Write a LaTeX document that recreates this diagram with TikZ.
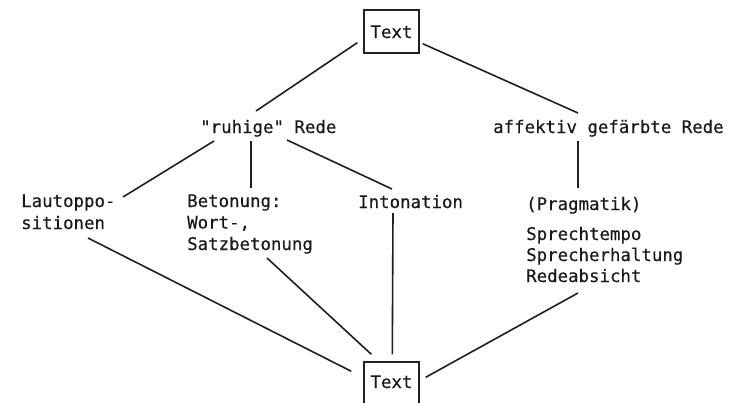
\documentclass[tikz,border=0pt]{standalone}
\usepackage{fontspec}
\setmonofont[FakeBold=0.3]{DejaVu Sans Mono}
\begin{document}
\begin{tikzpicture}[x=1pt,y=-1pt,
  lbl/.style={inner sep=0pt, anchor=base west, text=black!90,
    font=\ttfamily\fontsize{17.4}{21}\selectfont},
  conn/.style={line width=1.6pt, draw=black!88},
  boxnode/.style={draw=black!88, line width=1.4pt, minimum width=55pt, inner xsep=0pt,
    text height=13pt, anchor=base, text=black!90,
    font=\ttfamily\fontsize{17.4}{21}\selectfont}]
\useasboundingbox (0,0) rectangle (733,402);
\fill[white] (0,0) rectangle (733,402);
\clip (0,0) rectangle (733,402);

% boxes
\node[boxnode, inner ysep=15pt, text depth=0pt] (top) at (391.5,38) {Text};
\node[boxnode, inner ysep=13pt, text depth=40pt] (bot) at (391.5,388) {Text};
\draw[line width=1.3pt, draw=black!88] ([xshift=1.4pt]top.north west) -- ([xshift=1.4pt]top.south west);
\draw[line width=1.1pt, draw=black!88] ([xshift=1.1pt]bot.north west) -- ([xshift=1.1pt]bot.south west);

% labels
\node[lbl] (ruhige) at (200,133) {"ruhige" Rede};
\node[lbl] (affektiv) at (493,133) {affektiv gefärbte Rede};
\node[lbl] (laut1) at (21,207) {Lautoppo-};
\node[lbl] (laut2) at (21,229) {sitionen};
\node[lbl] (beton1) at (187,207) {Betonung:};
\node[lbl] (beton2) at (187,228.5) {Wort-,};
\node[lbl] (beton3) at (187,250) {Satzbetonung};
\node[lbl] (inton) at (358,208) {Intonation};
\node[lbl] (prag) at (526,210) {(Pragmatik)};
\node[lbl] (tempo) at (526,240) {Sprechtempo};
\node[lbl] (haltung) at (526,261) {Sprecherhaltung};
\node[lbl] (absicht) at (526,282) {Redeabsicht};

% connectors
\draw[conn] ([shift={(-6,-11)}]top.south west) -- ([shift={(56,-22)}]ruhige.base west);
\draw[conn] ([shift={(3,-10)}]top.south east) -- ([shift={(85,-20)}]affektiv.base west);
\draw[conn] ([shift={(14,8)}]ruhige.base west) -- ([shift={(102,-10)}]laut1.base west);
\draw[conn] ([shift={(51,8)}]ruhige.base west) -- ([shift={(64,-19)}]beton1.base west);
\draw[conn] ([shift={(87,7)}]ruhige.base west) -- ([shift={(34,-19)}]inton.base west);
\draw[conn] ([shift={(85,8)}]affektiv.base west) -- ([shift={(52,-22)}]prag.base west);
\draw[conn] ([shift={(67,9)}]laut2.base west) -- ([shift={(-12,10)}]bot.north west);
\draw[conn] ([shift={(80,8)}]beton3.base west) -- ([shift={(8,-7)}]bot.north west);
\draw[conn] ([shift={(35,5)}]inton.base west) -- ([shift={(29,-7)}]bot.north west);
\draw[conn] ([shift={(52,11)}]absicht.base west) -- ([shift={(6,16)}]bot.north east);
\end{tikzpicture}
\end{document}
